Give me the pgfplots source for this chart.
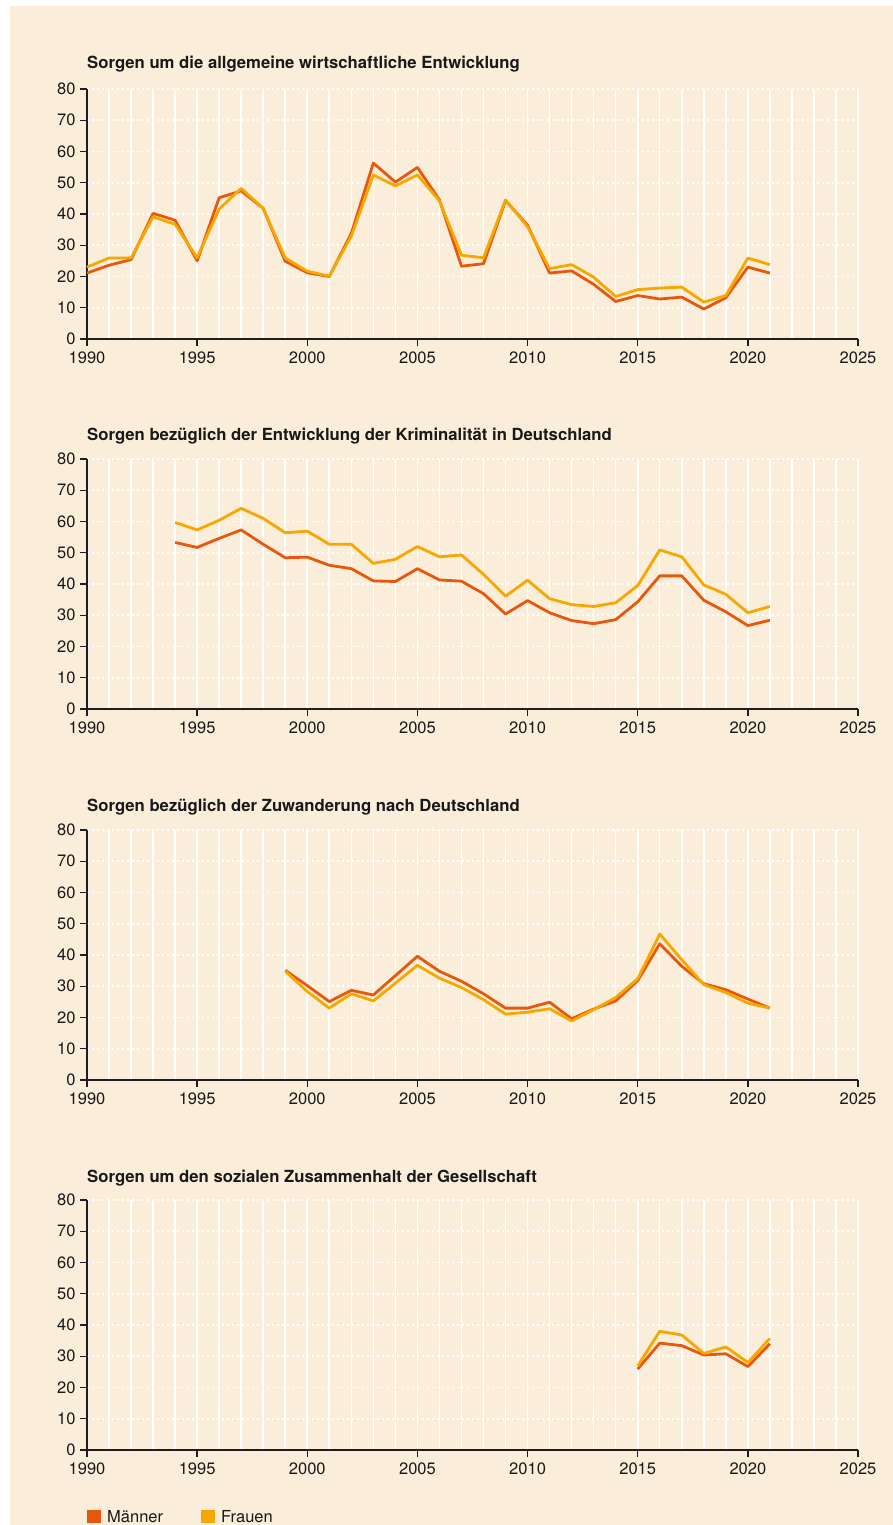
\documentclass[border=0pt]{standalone}
\usepackage{fontspec}
\setmainfont{TeX Gyre Heros}
\usepackage{pgfplots}
\pgfplotsset{compat=1.18}
\definecolor{bg}{RGB}{250,238,218}
\definecolor{maenner}{RGB}{232,88,12}
\definecolor{frauen}{RGB}{246,168,0}
\definecolor{axiscol}{RGB}{30,30,30}
\definecolor{txt}{RGB}{25,25,25}
\newcommand{\tickfont}{\fontsize{16.5}{19}\selectfont}
\newcommand{\titlefont}{\fontsize{16.7}{19}\selectfont\bfseries}
\pgfplotsset{sorgen/.style={
  scale only axis, width=771pt, height=250pt,
  xmin=1990, xmax=2025, ymin=0, ymax=80,
  axis x line=bottom, axis y line=left,
  axis line style={-, line width=1.3pt, draw=axiscol},
  xtick={1990,1995,...,2025}, ytick={0,10,...,80},
  minor xtick={1991,1992,...,2024},
  tick align=outside, major tick length=7pt, minor tick length=0pt,
  every tick/.style={line width=1.3pt, draw=axiscol},
  xmajorgrids, xminorgrids, ymajorgrids,
  major x grid style={draw=white, line width=1.6pt, solid},
  minor x grid style={draw=white, line width=1.6pt, solid},
  major y grid style={draw=white, line width=1.6pt, dash pattern=on 2pt off 3pt},
  /pgf/number format/assume math mode=true,
  /pgf/number format/1000 sep={},
  tick label style={font=\tickfont, text=txt},
  xticklabel style={yshift=-2pt},
  yticklabel style={xshift=-1pt},
  clip=false,
  every axis plot/.append style={line width=2.8pt, line join=round, mark=none},
}}
\begin{document}
\begin{tikzpicture}
\useasboundingbox (0,0) rectangle (893pt,-1525pt);
\fill[white] (0,0) rectangle (893pt,-1525pt);
\fill[bg] (10pt,-6pt) rectangle (893pt,-1525pt);

% Panel 1
\node[anchor=base west, font=\titlefont, text=txt, inner sep=0pt] at (87pt,-69pt) {Sorgen um die allgemeine wirtschaftliche Entwicklung};
\begin{axis}[sorgen, at={(87pt,-339pt)}, anchor=south west]
\addplot[maenner] coordinates {(1990,21.1)(1991,23.6)(1992,25.4)(1993,40.2)(1994,38.0)(1995,25.0)(1996,45.2)(1997,47.4)(1998,41.8)(1999,24.9)(2000,21.2)(2001,20.0)(2002,33.8)(2003,56.3)(2004,50.2)(2005,54.9)(2006,44.5)(2007,23.3)(2008,24.1)(2009,44.3)(2010,36.4)(2011,21.1)(2012,21.8)(2013,17.5)(2014,12.0)(2015,13.9)(2016,12.8)(2017,13.4)(2018,9.6)(2019,13.2)(2020,23.0)(2021,21.1)};
\addplot[frauen] coordinates {(1990,23.0)(1991,25.9)(1992,25.9)(1993,39.1)(1994,36.7)(1995,26.0)(1996,41.6)(1997,48.2)(1998,41.8)(1999,25.9)(2000,21.7)(2001,20.1)(2002,32.9)(2003,52.5)(2004,49.0)(2005,52.5)(2006,44.2)(2007,26.8)(2008,26.0)(2009,44.5)(2010,35.9)(2011,22.5)(2012,23.8)(2013,19.8)(2014,13.6)(2015,15.8)(2016,16.3)(2017,16.6)(2018,11.8)(2019,13.9)(2020,25.9)(2021,23.8)};
\end{axis}

% Panel 2
\node[anchor=base west, font=\titlefont, text=txt, inner sep=0pt] at (87pt,-440pt) {Sorgen bezüglich der Entwicklung der Kriminalität in Deutschland};
\begin{axis}[sorgen, at={(87pt,-709pt)}, anchor=south west]
\addplot[maenner] coordinates {(1994,53.3)(1995,51.7)(1996,54.6)(1997,57.3)(1998,52.7)(1999,48.4)(2000,48.6)(2001,46.0)(2002,44.9)(2003,41.0)(2004,40.8)(2005,44.9)(2006,41.3)(2007,40.9)(2008,36.9)(2009,30.4)(2010,34.7)(2011,30.8)(2012,28.3)(2013,27.3)(2014,28.6)(2015,34.3)(2016,42.6)(2017,42.6)(2018,34.8)(2019,31.1)(2020,26.7)(2021,28.4)};
\addplot[frauen] coordinates {(1994,59.7)(1995,57.3)(1996,60.4)(1997,64.2)(1998,61.0)(1999,56.4)(2000,56.9)(2001,52.7)(2002,52.7)(2003,46.6)(2004,47.9)(2005,52.0)(2006,48.7)(2007,49.3)(2008,43.1)(2009,36.1)(2010,41.2)(2011,35.3)(2012,33.4)(2013,32.8)(2014,34.0)(2015,39.5)(2016,50.9)(2017,48.7)(2018,39.7)(2019,36.7)(2020,30.8)(2021,32.8)};
\end{axis}

% Panel 3
\node[anchor=base west, font=\titlefont, text=txt, inner sep=0pt] at (87pt,-811pt) {Sorgen bezüglich der Zuwanderung nach Deutschland};
\begin{axis}[sorgen, at={(87pt,-1080pt)}, anchor=south west]
\addplot[maenner] coordinates {(1999,35.1)(2000,30.2)(2001,25.1)(2002,28.7)(2003,27.2)(2004,33.4)(2005,39.6)(2006,34.8)(2007,31.6)(2008,27.6)(2009,23.0)(2010,23.0)(2011,24.9)(2012,19.6)(2013,22.7)(2014,25.3)(2015,31.8)(2016,43.6)(2017,36.4)(2018,30.8)(2019,28.9)(2020,25.9)(2021,23.0)};
\addplot[frauen] coordinates {(1999,34.8)(2000,28.3)(2001,23.0)(2002,27.6)(2003,25.3)(2004,31.0)(2005,36.7)(2006,32.6)(2007,29.6)(2008,25.7)(2009,21.1)(2010,21.7)(2011,22.8)(2012,18.9)(2013,22.5)(2014,26.4)(2015,32.4)(2016,46.7)(2017,38.5)(2018,30.5)(2019,28.0)(2020,24.6)(2021,23.0)};
\end{axis}

% Panel 4
\node[anchor=base west, font=\titlefont, text=txt, inner sep=0pt] at (87pt,-1182pt) {Sorgen um den sozialen Zusammenhalt der Gesellschaft};
\begin{axis}[sorgen, at={(87pt,-1450pt)}, anchor=south west]
\addplot[maenner] coordinates {(2015,25.9)(2016,34.2)(2017,33.4)(2018,30.4)(2019,30.8)(2020,26.7)(2021,34.0)};
\addplot[frauen] coordinates {(2015,26.9)(2016,38.0)(2017,36.8)(2018,30.9)(2019,33.0)(2020,28.0)(2021,35.7)};
\end{axis}

% Legend
\fill[maenner] (87pt,-1510pt) rectangle (100.5pt,-1523pt);
\node[anchor=base west, font=\tickfont, text=txt, inner sep=0pt] at (107pt,-1522pt) {Männer};
\fill[frauen] (201pt,-1510pt) rectangle (214.5pt,-1523pt);
\node[anchor=base west, font=\tickfont, text=txt, inner sep=0pt] at (221pt,-1522pt) {Frauen};
\end{tikzpicture}
\end{document}
